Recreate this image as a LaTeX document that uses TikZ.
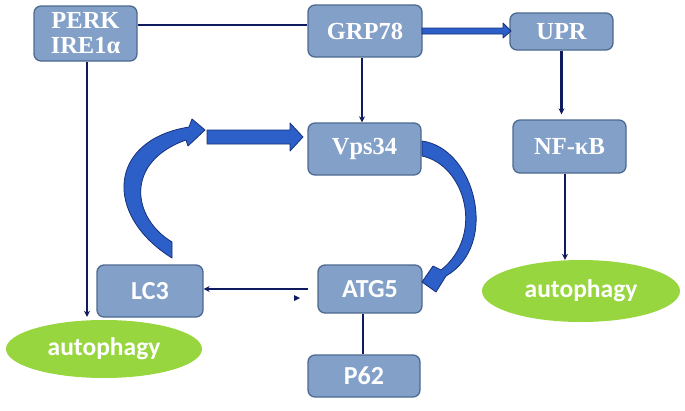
\documentclass[tikz,border=0pt]{standalone}
\usepackage{fontspec}
\setmainfont{Liberation Serif}
\newfontfamily\calfont{Carlito}
\usetikzlibrary{shapes.geometric,arrows.meta}
\definecolor{boxfill}{HTML}{83A0C9}
\definecolor{boxline}{HTML}{4F6A90}
\definecolor{navy}{HTML}{0F1B5E}
\definecolor{arrowblue}{HTML}{2C5FC8}
\definecolor{arrowedge}{HTML}{17307A}
\definecolor{leaf}{HTML}{97D63E}
\tikzset{
  pbox/.style={draw=boxline, line width=1.3pt, fill=boxfill, rounded corners=7pt,
    inner sep=0pt, text=white, align=center},
  serif/.style={font=\bfseries\fontsize{24.5}{28}\selectfont},
  sans/.style={font=\calfont\bfseries\fontsize{26}{28}\selectfont},
  leafell/.style={ellipse, fill=leaf, draw=none, inner sep=0pt, text=white,
    font=\calfont\bfseries\fontsize{25.5}{28}\selectfont},
  thinln/.style={draw=navy, line width=2.4pt},
  thinarr/.style={thinln, -{Stealth[length=6pt,width=6pt]}},
  blockarr/.style={fill=arrowblue, draw=arrowedge, line width=0.8pt, line join=round}
}
\begin{document}
\begin{tikzpicture}[x=1pt,y=-1pt]
\useasboundingbox (0,0) rectangle (685,410);
% boxes
\node[pbox, serif, minimum width=103pt, minimum height=55pt] (perk) at (85.5,33.5) {PERK\\[-3pt]IRE1α};
\node[pbox, serif, minimum width=114pt, minimum height=52pt] (grp) at (365,31) {GRP78};
\node[pbox, serif, minimum width=103pt, minimum height=37pt] (upr) at (561.5,31.5) {UPR};
\node[pbox, serif, minimum width=113pt, minimum height=52pt] (vps) at (364.5,149) {Vps34};
\node[pbox, serif, minimum width=113pt, minimum height=53pt] (nfkb) at (569.5,146.5) {NF-κB};
\node[pbox, sans, minimum width=106pt, minimum height=52pt] (lc3) at (150,291) {LC3};
\node[pbox, sans, minimum width=104pt, minimum height=48pt] (atg) at (370,289) {ATG5};
\node[pbox, sans, minimum width=112pt, minimum height=42pt] (p62) at (364,376) {P62};
\node[leafell, minimum width=196pt, minimum height=58pt] (auto1) at (104,349) {autophagy};
\node[leafell, minimum width=198pt, minimum height=62pt] (auto2) at (581,291) {autophagy};
% thin connectors
\draw[thinln] ([yshift=8.5pt]perk.east) -- ([yshift=6pt]grp.west);
\draw[thinarr, shorten >=3pt] ([xshift=1.5pt]perk.south) -- ([xshift=1.5pt]perk.south |- auto1.north);
\draw[thinarr] ([xshift=-3pt]grp.south) -- ([xshift=-3pt]grp.south |- vps.north);
\draw[thinarr, shorten >=5pt] (upr.south) -- (upr.south |- nfkb.north);
\draw[thinarr] ([xshift=-4.5pt]nfkb.south) -- ([xshift=-4.5pt]nfkb.south |- auto2.north);
\draw[thinarr, shorten <=9pt] (atg.west) -- (atg.west -| lc3.east);
\draw[thinln] ([xshift=-7pt]atg.south) -- ([xshift=-7pt]atg.south |- p62.north);
\fill[navy] (294,295) -- (300,298) -- (294,301) -- cycle;
% block arrows
\draw[blockarr] (422,28) -- (503,28) -- (503,23) -- (511,31) -- (503,38) -- (503,34) -- (422,34) -- cycle;
\draw[blockarr] (207,130) -- (290,130) -- (290,123) -- (303,137) -- (290,151) -- (290,144) -- (207,144) -- cycle;
\draw[blockarr] (172,242) .. controls (132,218) and (124,162) .. (186,140)
  -- (188,146) -- (205,130) -- (192,119) -- (189,127)
  .. controls (108,140) and (103,215) .. (172,258) -- cycle;
\draw[blockarr] (422,141) .. controls (475,148) and (500,245) .. (446,276)
  -- (436,292) -- (422,282) -- (433,266) -- (441,270)
  .. controls (485,235) and (465,165) .. (422,156) -- cycle;
\end{tikzpicture}
\end{document}
